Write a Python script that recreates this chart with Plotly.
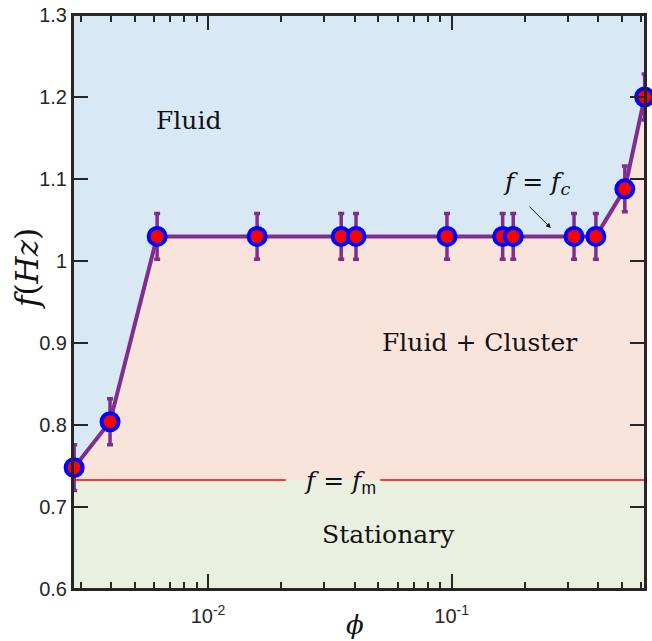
import numpy as np
import plotly.graph_objects as go

phi = [0.00282, 0.00396, 0.00618, 0.0159, 0.0352, 0.0405, 0.0957, 0.162, 0.179, 0.318, 0.391, 0.514, 0.62]
freq = [0.748, 0.804, 1.030, 1.030, 1.030, 1.030, 1.030, 1.030, 1.030, 1.030, 1.030, 1.088, 1.200]
err = [0.028] * 13
f_m = 0.733

x_ticks = [0.01, 0.1]
x_ticktext = ["10<sup>-2</sup>", "10<sup>-1</sup>"]
x_minor = [0.003, 0.004, 0.005, 0.006, 0.007, 0.008, 0.009,
           0.02, 0.03, 0.04, 0.05, 0.06, 0.07, 0.08, 0.09,
           0.2, 0.3, 0.4, 0.5, 0.6]
y_ticks = [0.6, 0.7, 0.8, 0.9, 1.0, 1.1, 1.2, 1.3]
y_ticktext = ["0.6", "0.7", "0.8", "0.9", "1", "1.1", "1.2", "1.3"]

purple = "#7e2f8e"
serif = "DejaVu Serif"
txt = "#111111"
axc = "#262626"

fig = go.Figure()

# pink region between curve and f_m
fig.add_trace(go.Scatter(
    x=phi + [phi[-1], phi[0]],
    y=freq + [f_m, f_m],
    fill="toself", fillcolor="#f9e4dc", line=dict(width=0),
    mode="lines", hoverinfo="skip", showlegend=False))

fig.add_trace(go.Scatter(
    x=phi, y=freq, mode="lines+markers",
    line=dict(color=purple, width=4),
    marker=dict(size=17, color="#ff0000", line=dict(color="#0000ff", width=4)),
    error_y=dict(type="data", array=err, color=purple, thickness=3.5, width=3),
    cliponaxis=False, showlegend=False))

shapes = [
    dict(type="rect", xref="paper", yref="y", x0=0, x1=1, y0=0.6, y1=f_m,
         fillcolor="#e9f0df", line=dict(width=0), layer="below"),
    dict(type="line", xref="paper", yref="y", x0=0, x1=0.372, y0=f_m, y1=f_m,
         line=dict(color="#ff0000", width=1.5)),
    dict(type="line", xref="paper", yref="y", x0=0.537, x1=1, y0=f_m, y1=f_m,
         line=dict(color="#ff0000", width=1.5)),
    # axes box
    dict(type="rect", xref="paper", yref="paper", x0=0, x1=1, y0=0, y1=1,
         fillcolor="rgba(0,0,0,0)", line=dict(color=axc, width=2), layer="above"),
]

annotations = [
    dict(x=np.log10(0.00828), y=1.171, text="Fluid", showarrow=False,
         font=dict(family=serif, size=25, color=txt)),
    dict(x=np.log10(0.1306), y=0.901, text="Fluid + Cluster", showarrow=False,
         font=dict(family=serif, size=25, color=txt)),
    dict(x=np.log10(0.0548), y=0.667, text="Stationary", showarrow=False,
         font=dict(family=serif, size=25, color=txt)),
    dict(x=np.log10(0.224), y=1.095, text="<i>f</i> = <i>f<sub>c</sub></i>", showarrow=False,
         font=dict(family=serif, size=25, color=txt)),
    dict(x=np.log10(0.0348), y=f_m - 0.002,
         text="<i>f</i> = <i>f</i><sub><span style='font-family:Liberation Sans;font-style:normal'>m</span></sub>",
         showarrow=False, font=dict(family=serif, size=25, color=txt)),
    dict(x=-0.5925, y=1.0402, text="", showarrow=True, arrowhead=2,
         arrowsize=1, arrowwidth=1, arrowcolor=txt, ax=-23, ay=-23),
    # axis titles
    dict(xref="paper", yref="paper", x=(355 - 73) / 572, y=(589 - 625) / 574,
         xanchor="center", yanchor="middle",
         text="<i>ϕ</i>", showarrow=False, font=dict(family=serif, size=26, color=txt)),
    dict(xref="paper", yref="paper", x=(27 - 73) / 572, y=(589 - 269) / 574,
         xanchor="center", yanchor="middle",
         text="<i>f</i>(<i>Hz</i>)", textangle=-90, showarrow=False,
         font=dict(family=serif, size=31, color=txt)),
]

fig.update_layout(
    width=652, height=641,
    margin=dict(l=73, r=7, t=15, b=52),
    paper_bgcolor="white", plot_bgcolor="#d9e8f5",
    shapes=shapes, annotations=annotations,
    xaxis=dict(type="log", range=[np.log10(0.00279), np.log10(0.622)],
               tickmode="array", tickvals=x_ticks, ticktext=x_ticktext,
               ticks="inside", ticklen=15, tickwidth=1.5, tickcolor=axc,
               minor=dict(tickvals=x_minor, ticks="inside", ticklen=7,
                          tickwidth=1.5, tickcolor=axc, showgrid=False),
               showline=True, linecolor=axc, linewidth=2, mirror="ticks",
               showgrid=False, zeroline=False, automargin=False,
               ticklabelstandoff=8, ticklabeloverflow="allow",
               tickfont=dict(family="Liberation Sans", size=20, color=axc)),
    yaxis=dict(range=[0.6, 1.3], tickmode="array", tickvals=y_ticks, ticktext=y_ticktext,
               ticks="inside", ticklen=15, tickwidth=1.5, tickcolor=axc,
               showline=True, linecolor=axc, linewidth=2, mirror="ticks",
               showgrid=False, zeroline=False, automargin=False,
               ticklabeloverflow="allow",
               tickfont=dict(family="Liberation Sans", size=20, color=axc)),
)

fig.write_html("out.html", config={"displayModeBar": False},
               post_script="document.body.style.margin='0';")
